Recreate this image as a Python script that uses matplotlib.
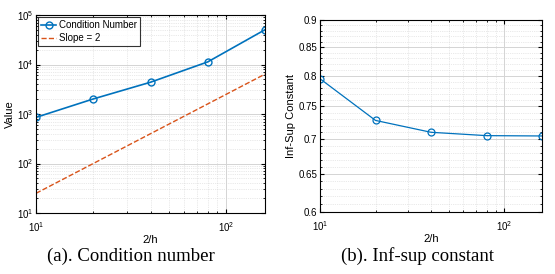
import matplotlib
matplotlib.use("Agg")
import matplotlib.pyplot as plt
from matplotlib.ticker import FixedLocator, FuncFormatter, LogLocator, NullFormatter

plt.rcParams.update(
    {
        "font.family": ["Liberation Sans", "DejaVu Sans"],
        "font.size": 7,
        "axes.labelsize": 8,
        "axes.linewidth": 0.8,
        "xtick.direction": "in",
        "ytick.direction": "in",
        "xtick.top": True,
        "ytick.right": True,
        "xtick.major.size": 3,
        "ytick.major.size": 3,
        "xtick.minor.size": 1.6,
        "ytick.minor.size": 1.6,
        "mathtext.default": "regular",
    }
)

BLUE = "#0072BD"
ORANGE = "#D95319"

# data
inv_h = [10, 20, 40, 80, 160]
cond_number = [855, 2015, 4390, 11300, 50500]
slope2_ref = [25, 100, 400, 1600, 6400]
inf_sup = [0.795, 0.728, 0.710, 0.705, 0.7045]
inf_sup_ticks = [0.6, 0.65, 0.7, 0.75, 0.8, 0.85, 0.9]
inf_sup_minor = [round(0.60 + 0.01 * i, 2) for i in range(31)]


def style_grid(ax):
    ax.grid(True, which="major", color="#d4d4d4", linewidth=0.7, linestyle="-")
    ax.grid(True, which="minor", color="#d4d4d4", linewidth=0.5, linestyle=":")
    ax.set_axisbelow(True)


fig = plt.figure(figsize=(5.55, 2.74), dpi=100)

# (a) condition number
ax1 = fig.add_axes([0.0649, 0.2226, 0.4126, 0.7226])
ax1.loglog(inv_h, cond_number, "-o", color=BLUE, lw=1.2, ms=5,
           mfc="none", mew=1.0, label="Condition Number")
ax1.loglog(inv_h, slope2_ref, "--", color=ORANGE, lw=1.0, label="Slope = 2")
ax1.set_xlim(10, 160)
ax1.set_ylim(10, 1e5)
ax1.yaxis.set_major_locator(LogLocator(base=10, numticks=10))
ax1.yaxis.set_minor_locator(LogLocator(base=10, subs=range(2, 10), numticks=10))
ax1.yaxis.set_minor_formatter(NullFormatter())
ax1.xaxis.set_minor_formatter(NullFormatter())
ax1.set_xlabel("2/h", labelpad=1)
ax1.set_ylabel("Value", labelpad=1)
style_grid(ax1)
leg = ax1.legend(loc="upper left", fontsize=7, frameon=True, fancybox=False,
                 edgecolor="black", borderpad=0.3, handlelength=1.5,
                 handletextpad=0.3, borderaxespad=0.25, labelspacing=0.3)
leg.get_frame().set_linewidth(0.8)
ax1.tick_params(axis="y", which="both", pad=2)
ax1.tick_params(axis="x", which="both", pad=5)

# (b) inf-sup constant
ax2 = fig.add_axes([0.5766, 0.2263, 0.4, 0.7007])
ax2.loglog(inv_h, inf_sup, "-o", color=BLUE, lw=0.9, ms=5,
           mfc="none", mew=0.9)
ax2.set_xlim(10, 160)
ax2.set_ylim(0.6, 0.9)
ax2.yaxis.set_major_locator(FixedLocator(inf_sup_ticks))
ax2.yaxis.set_major_formatter(FuncFormatter(lambda v, p: f"{v:g}"))
ax2.yaxis.set_minor_locator(FixedLocator(inf_sup_minor))
ax2.yaxis.set_minor_formatter(NullFormatter())
ax2.xaxis.set_minor_formatter(NullFormatter())
ax2.set_xlabel("2/h", labelpad=1)
ax2.set_ylabel("Inf-Sup Constant", labelpad=2)
style_grid(ax2)
ax2.tick_params(axis="y", which="both", pad=2)
ax2.tick_params(axis="x", which="both", pad=5)

fig.text(0.235, 0.066, "(a). Condition number", ha="center", va="center",
         fontsize=13.5, family=["Liberation Serif", "DejaVu Serif"])
fig.text(0.752, 0.066, "(b). Inf-sup constant", ha="center", va="center",
         fontsize=13.5, family=["Liberation Serif", "DejaVu Serif"])

fig.savefig("out.png", dpi=100)
